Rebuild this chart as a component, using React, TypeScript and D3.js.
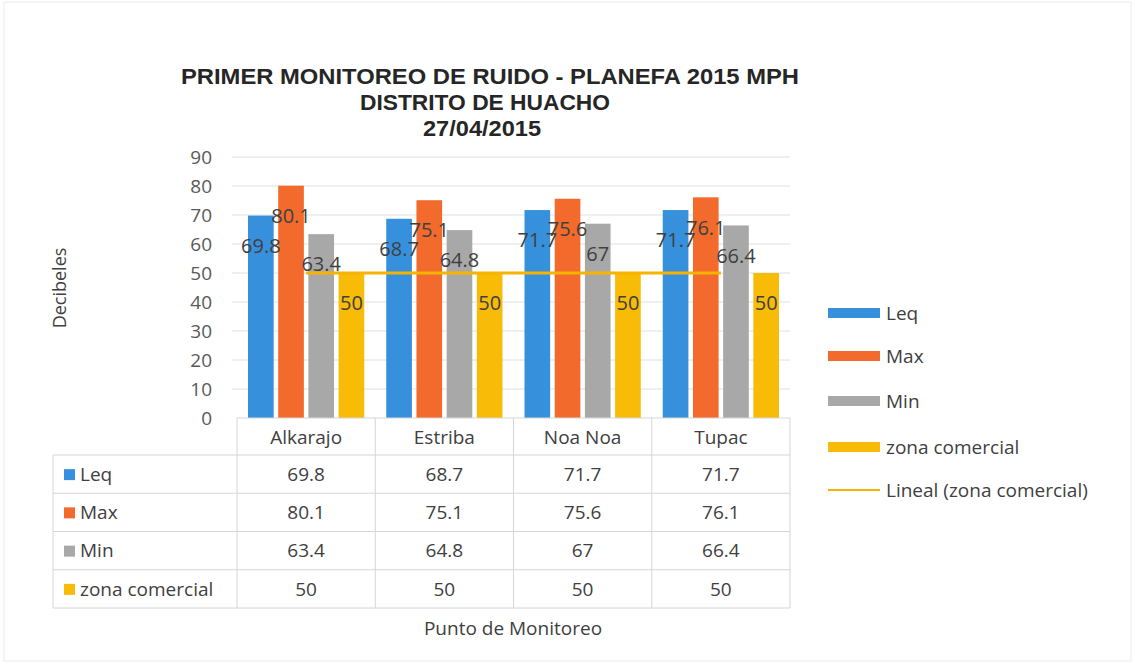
import React from 'react';
import { scaleLinear, scaleBand, line } from 'd3';

const categories = ['Alkarajo', 'Estriba', 'Noa Noa', 'Tupac'];
const seriesNames = ['Leq', 'Max', 'Min', 'zona comercial'];
const leq = [69.8, 68.7, 71.7, 71.7];
const maxVals = [80.1, 75.1, 75.6, 76.1];
const minVals = [63.4, 64.8, 67, 66.4];
const zona = [50, 50, 50, 50];
const yTicks = [0, 10, 20, 30, 40, 50, 60, 70, 80, 90];
const titleLines = ['PRIMER MONITOREO DE RUIDO - PLANEFA 2015 MPH', 'DISTRITO DE HUACHO', '27/04/2015'];

const seriesValues = [leq, maxVals, minVals, zona];
const colors = ['#3790dc', '#f26b2c', '#a8a8a8', '#f7bb08'];
const trendColor = '#f5b400';
const font = '"Open Sans", Lato, sans-serif';
const textColor = '#404040';

const W = 1135, H = 669;
const plotLeft = 237, plotRight = 790, plotTop = 157, plotBottom = 418;

// title is a squeezed bold face in the original
const titleLayout = [
  { cx: 490, len: 618 },
  { cx: 485, len: 250 },
  { cx: 482, len: 118 },
];

const App = () => {
  const x = scaleBand().domain(categories).range([plotLeft, plotRight]);
  const xInner = scaleBand().domain(seriesNames).range([11, x.bandwidth() - 11]).paddingInner(0.15);
  const y = scaleLinear().domain([0, 90]).range([plotBottom, plotTop]);
  const rows = scaleBand().domain(seriesNames).range([455, 608]);

  const trend = line<number>()
    .x((d, i) => (x(categories[i]) as number) + x.bandwidth() / 2)
    .y(d => y(d))(zona);

  const colRight = categories.map(c => (x(c) as number) + x.bandwidth());

  return (
    <svg width={W} height={H} style={{ position: 'absolute', left: 0, top: 0, background: '#fff' }}>
      <rect x={4} y={2} width={W - 8} height={H - 10} fill="#fff" stroke="#ececec" />

      {titleLines.map((t, i) => (
        <text key={t} x={titleLayout[i].cx} y={84 + i * 26} textAnchor="middle" fontFamily='"Liberation Sans", Arial, sans-serif'
          fontWeight="bold" fontSize={22} fill="#262626"
          textLength={titleLayout[i].len} lengthAdjust="spacingAndGlyphs">{t}</text>
      ))}

      {/* gridlines and y ticks */}
      {yTicks.map(t => (
        <g key={t}>
          {t > 0 && <line x1={232} x2={plotRight} y1={y(t)} y2={y(t)} stroke="#e0e0e0" strokeWidth={1} />}
          <text x={212} y={y(t)} dy="0.36em" textAnchor="end" fontFamily={font} fontSize={19} fill="#595959">{t}</text>
        </g>
      ))}
      <text transform="translate(66, 288) rotate(-90)" textAnchor="middle" fontFamily={font} fontSize={18} fill={textColor}>Decibeles</text>

      {/* bars */}
      {categories.map((c, ci) => (
        <g key={c} transform={`translate(${x(c)}, 0)`}>
          {seriesNames.map((s, si) => {
            const v = seriesValues[si][ci];
            return (
              <rect key={s} x={xInner(s) as number} y={y(v)} width={xInner.bandwidth()} height={plotBottom - y(v)} fill={colors[si]} />
            );
          })}
        </g>
      ))}

      {/* linear trendline of zona comercial */}
      <path d={trend || ''} fill="none" stroke={trendColor} strokeWidth={3} />

      {/* data labels */}
      {categories.map((c, ci) => (
        <g key={c} transform={`translate(${x(c)}, 0)`}>
          {seriesNames.map((s, si) => {
            const v = seriesValues[si][ci];
            const bx = (xInner(s) as number) + xInner.bandwidth() / 2;
            return (
              <text key={s} x={bx} y={y(v) + 30} dy="0.36em" textAnchor="middle" fontFamily={font} fontSize={20} fill={textColor}>{v}</text>
            );
          })}
        </g>
      ))}

      {/* axis line */}
      <line x1={plotLeft} x2={plotRight} y1={plotBottom} y2={plotBottom} stroke="#d6d6d6" />

      {/* data table */}
      {[plotLeft, ...colRight].map((lx, i) => (
        <line key={i} x1={lx} x2={lx} y1={plotBottom} y2={608} stroke="#d6d6d6" />
      ))}
      <line x1={53} x2={53} y1={455} y2={608} stroke="#d6d6d6" />
      {[455, ...seriesNames.map(s => (rows(s) as number) + rows.bandwidth())].map((ly, i) => (
        <line key={i} x1={53} x2={plotRight} y1={ly} y2={ly} stroke="#d6d6d6" />
      ))}
      {categories.map(c => (
        <text key={c} x={(x(c) as number) + x.bandwidth() / 2} y={437} dy="0.36em" textAnchor="middle"
          fontFamily={font} fontSize={19} fill={textColor}>{c}</text>
      ))}
      {seriesNames.map((s, si) => {
        const ry = (rows(s) as number) + rows.bandwidth() / 2;
        return (
          <g key={s}>
            <rect x={64} y={ry - 5} width={11} height={11} fill={colors[si]} />
            <text x={80} y={ry} dy="0.36em" fontFamily={font} fontSize={19} fill={textColor}>{s}</text>
            {categories.map((c, ci) => (
              <text key={c} x={(x(c) as number) + x.bandwidth() / 2} y={ry} dy="0.36em" textAnchor="middle"
                fontFamily={font} fontSize={19} fill={textColor}>{seriesValues[si][ci]}</text>
            ))}
          </g>
        );
      })}
      <text x={513} y={628} dy="0.36em" textAnchor="middle" fontFamily={font} fontSize={19} fill={textColor}>Punto de  Monitoreo</text>

      {/* legend */}
      {seriesNames.map((s, si) => {
        const ly = [313, 356, 401, 447][si];
        return (
          <g key={s}>
            <rect x={828} y={ly - 5} width={52} height={10} fill={colors[si]} />
            <text x={886} y={ly} dy="0.36em" fontFamily={font} fontSize={19} fill={textColor}>{s}</text>
          </g>
        );
      })}
      <line x1={828} x2={880} y1={490} y2={490} stroke={trendColor} strokeWidth={2} />
      <text x={886} y={490} dy="0.36em" fontFamily={font} fontSize={19} fill={textColor}>Lineal (zona comercial)</text>
    </svg>
  );
};

export default App;
